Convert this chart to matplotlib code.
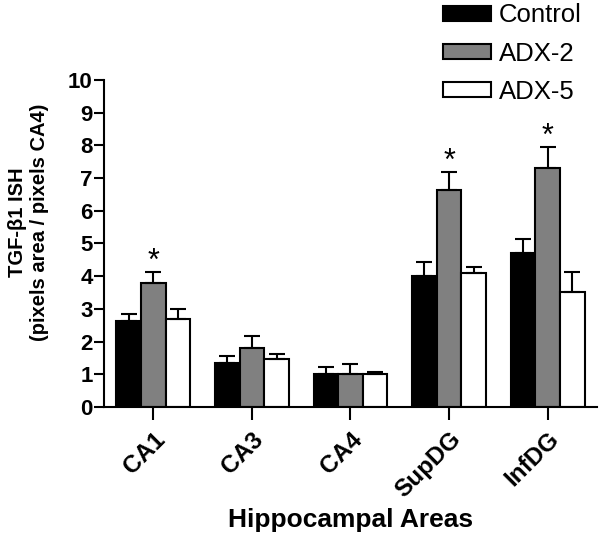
import numpy as np
import matplotlib.pyplot as plt
import matplotlib.transforms as mtransforms
from matplotlib.patches import Patch

plt.rcParams['font.family'] = ['Liberation Sans', 'DejaVu Sans']

# ........................................................ data
areas = ['CA1', 'CA3', 'CA4', 'SupDG', 'InfDG']
groups = ['Control', 'ADX-2', 'ADX-5']
colors = ['black', '#808080', 'white']
control = [2.63, 1.34, 1.01, 4.00, 4.70]
control_err = [0.20, 0.23, 0.20, 0.42, 0.43]
adx2 = [3.79, 1.81, 1.01, 6.64, 7.30]
adx2_err = [0.35, 0.37, 0.30, 0.56, 0.64]
adx5 = [2.68, 1.47, 1.00, 4.09, 3.51]
adx5_err = [0.31, 0.15, 0.06, 0.18, 0.61]
signif = [1, 0, 0, 1, 1]   # star over ADX-2

# ........................................................ figure
fig = plt.figure(figsize=(6.0, 5.38), dpi=100)
ax = fig.add_axes([0.1733, 0.2435, 0.8217, 0.6078])

x = np.arange(len(areas))
w = 0.25
series = [(control, control_err), (adx2, adx2_err), (adx5, adx5_err)]
for i, (vals, errs) in enumerate(series):
  ax.bar(x + (i - 1) * w, vals, w, color=colors[i], edgecolor='black',
         linewidth=1.5, zorder=2,
         yerr=[np.zeros(len(errs)), errs],
         error_kw=dict(ecolor='black', elinewidth=1.5, capsize=6, capthick=1.5, zorder=3))

for k, s in enumerate(signif):
  if s:
    ax.text(x[k], adx2[k] + adx2_err[k] + 0.06, '*', ha='center', va='baseline',
            fontsize=22)

ax.set_xlim(-0.5, 4.5)
ax.set_ylim(0, 10)
ax.set_yticks(range(0, 11))
ax.set_xticks(x)
ax.set_xticklabels(areas, rotation=45, ha='right', rotation_mode='anchor',
                   fontsize=17.5, fontweight='bold')
shift = mtransforms.ScaledTranslation(-4/72, 0, fig.dpi_scale_trans)
for lab in ax.get_xticklabels():
  lab.set_transform(lab.get_transform() + shift)
ax.set_yticklabels([str(v) for v in range(0, 11)], fontsize=16, fontweight='bold')
ax.tick_params(axis='y', width=1.5, length=7, pad=1)
ax.tick_params(axis='x', width=1.5, length=9, pad=6)
for sp in ['top', 'right']:
  ax.spines[sp].set_visible(False)
for sp in ['left', 'bottom']:
  ax.spines[sp].set_linewidth(1.5)

ax.set_xlabel('Hippocampal Areas', fontsize=19, fontweight='bold', labelpad=4)
ax.set_ylabel('TGF-\u03b21 ISH\n(pixels area / pixels CA4)', fontsize=14.5,
              fontweight='bold', labelpad=14, y=0.566)

handles = [Patch(facecolor=c, edgecolor='black', linewidth=1.5) for c in colors]
fig.legend(handles, groups, loc='upper left', bbox_to_anchor=(0.708, 1.027),
           frameon=False, fontsize=18.5, handlelength=1.87, handleheight=0.55,
           handletextpad=0.3, labelspacing=0.55, borderpad=0.2)

fig.savefig('out.png', dpi=100)
